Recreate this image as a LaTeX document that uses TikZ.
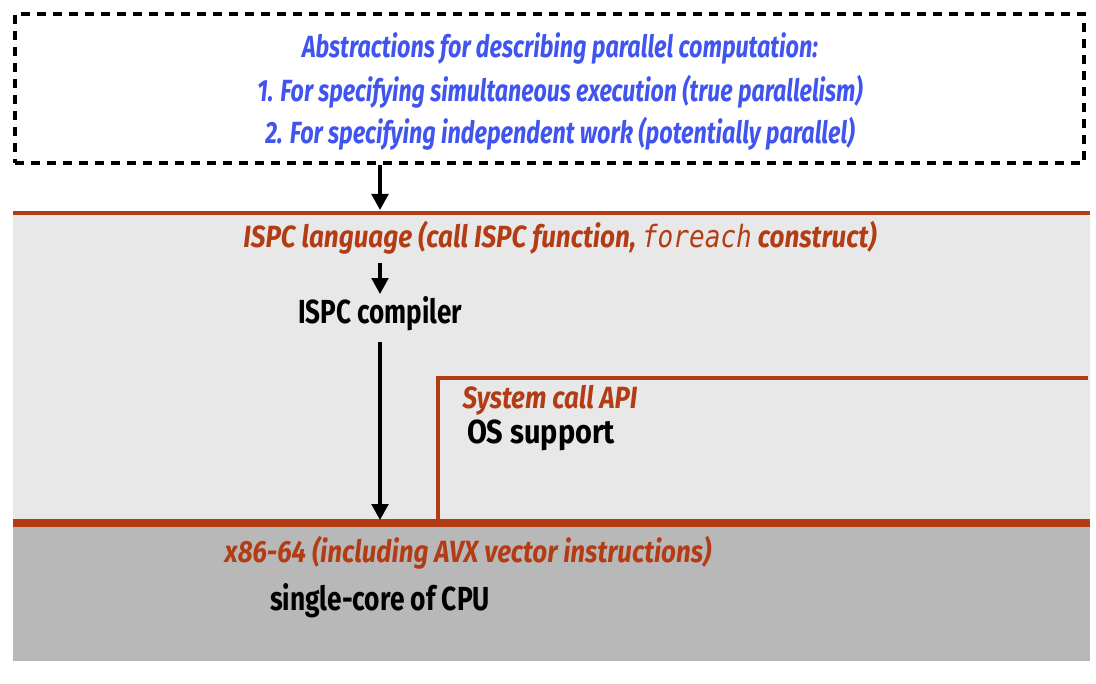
\documentclass[tikz,border=0pt]{standalone}
\usepackage{fontspec}
\setmainfont{Fira Sans}
\newfontfamily\codefont{DejaVu Sans Mono}
\usetikzlibrary{arrows.meta}
\definecolor{absblue}{RGB}{64,84,240}
\definecolor{rust}{RGB}{180,60,20}
\definecolor{lightlayer}{RGB}{232,232,232}
\definecolor{darklayer}{RGB}{184,184,184}
\newlength\fitwd
\newcommand\hfit[2]{\setbox0\hbox{#2}\setlength\fitwd{\wd0}\pgfmathsetmacro\hfitr{#1/\fitwd}\scalebox{\hfitr}[1]{\box0}}
\begin{document}
\begin{tikzpicture}[x=0.75pt,y=-0.75pt,
  arr/.style={line width=2.4pt,-{Triangle[width=12.5pt,length=12pt]}},
  abst/.style={text=absblue,font=\fontsize{23}{27}\selectfont\bfseries\itshape,inner sep=0pt},
  api/.style={text=rust,font=\fontsize{23}{27}\selectfont\bfseries\itshape,inner sep=0pt},
  impl/.style={text=black,font=\fontsize{25}{29}\selectfont\bfseries,inner sep=0pt},
  layeredge/.style={draw=rust,line width=3pt},
  dashbox/.style={draw=black,line width=3pt,dash pattern=on 7pt off 5pt,minimum width=801.75pt,minimum height=111.75pt}]
\useasboundingbox (0,0) rectangle (1096,684);
\fill[white] (0,0) rectangle (1096,684);
% layers
\fill[darklayer] (13,523) rectangle (1090,661);
\fill[lightlayer] (13,213) rectangle (1090,523);
\draw[layeredge] (13,213) -- (1090,213);
\draw[layeredge,line width=2.5pt] (438,523) -- (438,378) -- (1088,378);
\draw[layeredge,line width=6pt] (13,523) -- (1090,523);
% abstraction box
\node[dashbox] (abs) at (549.5,88.5) {};
\node[abst,anchor=base] (l1) at (560,58) {\hfit{387pt}{Abstractions for describing parallel computation:}};
\node[abst,anchor=base] (l2) at (560,102) {\hfit{454pt}{1. For specifying simultaneous execution (true parallelism)}};
\node[abst,anchor=base] (l3) at (560,144) {\hfit{442pt}{2. For specifying independent work (potentially parallel)}};
% ISPC layer
\node[api,anchor=base] (ispcl) at (560,248) {\hfit{475pt}{ISPC language (call ISPC function, {\codefont\mdseries\itshape foreach} construct)}};
\node[impl,anchor=base] (comp) at (380,324) {\hfit{123pt}{ISPC compiler}};
% OS layer
\node[api,anchor=base] (sys) at (550,408) {\hfit{131pt}{System call API}};
\node[impl,anchor=base] (os) at (541,443) {\hfit{111pt}{OS support}};
% hardware layer
\node[api,anchor=base] (isa) at (468,562) {\hfit{365pt}{x86-64 (including AVX vector instructions)}};
\node[impl,anchor=base] (cpu) at (380,610) {\hfit{165pt}{single-core of CPU}};
% connectors
\coordinate (ispctop) at (380,210);
\coordinate (isatop) at (380,520);
\draw[arr] (abs.south -| ispctop) -- (ispctop);
\draw[arr] ([yshift=-6pt]ispcl.south -| comp) -- ([yshift=2pt]comp.north);
\draw[arr] ([yshift=-8pt]comp.south) -- (isatop);
\end{tikzpicture}
\end{document}
